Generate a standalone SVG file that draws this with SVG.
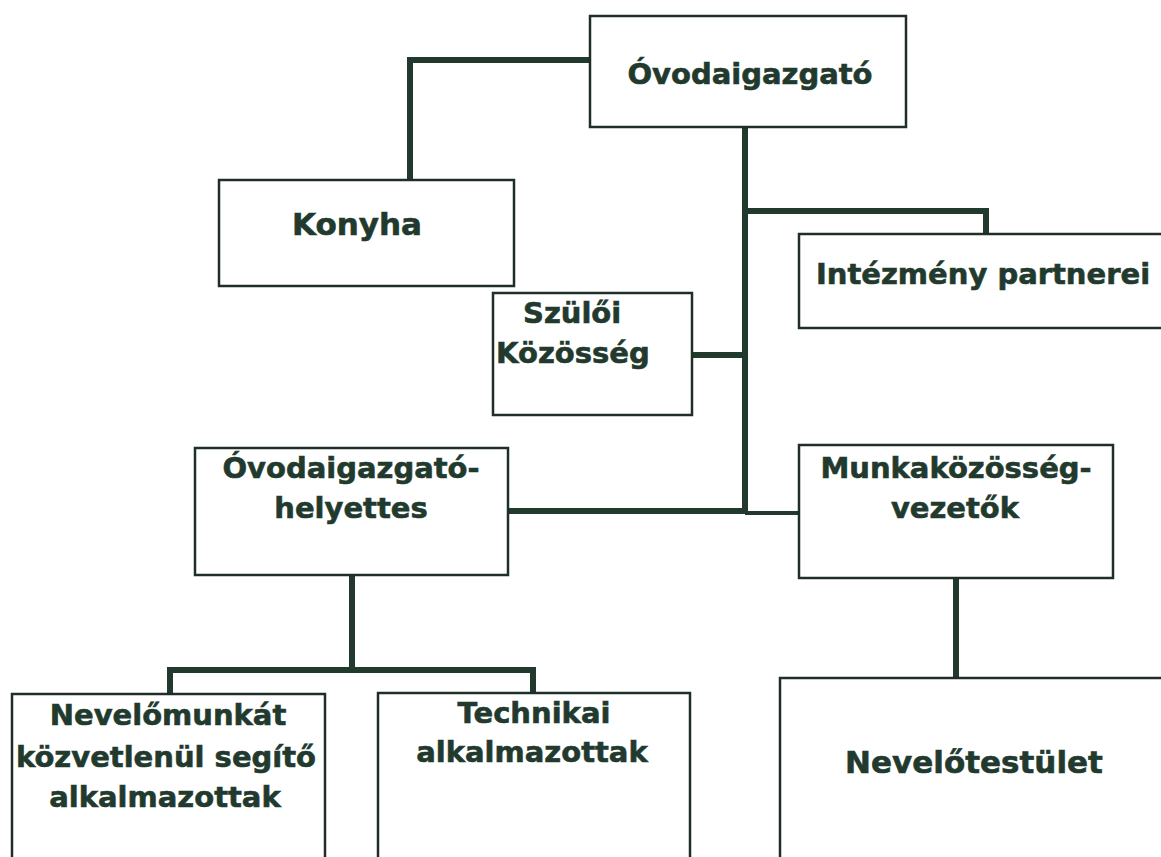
<svg xmlns="http://www.w3.org/2000/svg" width="1161" height="857" viewBox="0 0 1161 857">
<style>
.box{fill:#fff;stroke:#1f2f27;stroke-width:2.5}
.t{font-family:"DejaVu Sans",Verdana,sans-serif;font-weight:bold;font-size:29px;fill:#223a2e;stroke:#223a2e;stroke-width:0.6}
.big{font-size:31px}
.c{fill:none;stroke:#22392d;stroke-width:6;stroke-linecap:butt;stroke-linejoin:miter}
</style>
<rect width="1161" height="857" fill="#fff"/>
<g id="connectors">
<path class="c" d="M590 60 H410 V183 H433"/>
<path class="c" d="M745 127 V512"/>
<path class="c" d="M745 211 H986 V235"/>
<path class="c" d="M692 355 H745"/>
<path class="c" d="M508 511 H745"/>
<path class="c" d="M745 513 H800" style="stroke-width:4"/>
<path class="c" d="M956 578 V678"/>
<path class="c" d="M352 575 V670"/>
<path class="c" d="M170 694 V670 H533 V693"/>
</g>
<g id="n-igazgato">
<rect class="box" x="590" y="16" width="316" height="111"/>
<text class="t" x="750" y="84" text-anchor="middle">Óvodaigazgató</text>
</g>
<g id="n-konyha">
<rect class="box" x="219" y="180" width="295" height="106"/>
<text class="t big" x="357" y="235" text-anchor="middle">Konyha</text>
</g>
<g id="n-partnerei">
<rect class="box" x="799" y="234" width="380" height="94"/>
<text class="t" x="816" y="284">Intézmény partnerei</text>
</g>
<g id="n-szuloi">
<rect class="box" x="493" y="293" width="199" height="122"/>
<text class="t" x="523" y="323">Szülői</text>
<text class="t" x="496" y="363">Közösség</text>
</g>
<g id="n-helyettes">
<rect class="box" x="195" y="448" width="313" height="127"/>
<text class="t" x="351" y="478" text-anchor="middle">Óvodaigazgató-</text>
<text class="t" x="351" y="518" text-anchor="middle">helyettes</text>
</g>
<g id="n-munkakozosseg">
<rect class="box" x="799" y="445" width="314" height="133"/>
<text class="t" x="956" y="478" text-anchor="middle">Munkaközösség-</text>
<text class="t" x="955" y="518" text-anchor="middle">vezetők</text>
</g>
<g id="n-nevelomunkat">
<rect class="box" x="12" y="694" width="313" height="180"/>
<text class="t" x="168" y="725" text-anchor="middle">Nevelőmunkát</text>
<text class="t" x="166" y="767" text-anchor="middle">közvetlenül segítő</text>
<text class="t" x="165" y="807" text-anchor="middle">alkalmazottak</text>
</g>
<g id="n-technikai">
<rect class="box" x="378" y="693" width="312" height="180"/>
<text class="t" x="534" y="723" text-anchor="middle">Technikai</text>
<text class="t" x="532" y="762" text-anchor="middle">alkalmazottak</text>
</g>
<g id="n-nevelotestulet">
<rect class="box" x="780" y="678" width="400" height="190"/>
<text class="t big" x="974" y="773" text-anchor="middle">Nevelőtestület</text>
</g>
</svg>
